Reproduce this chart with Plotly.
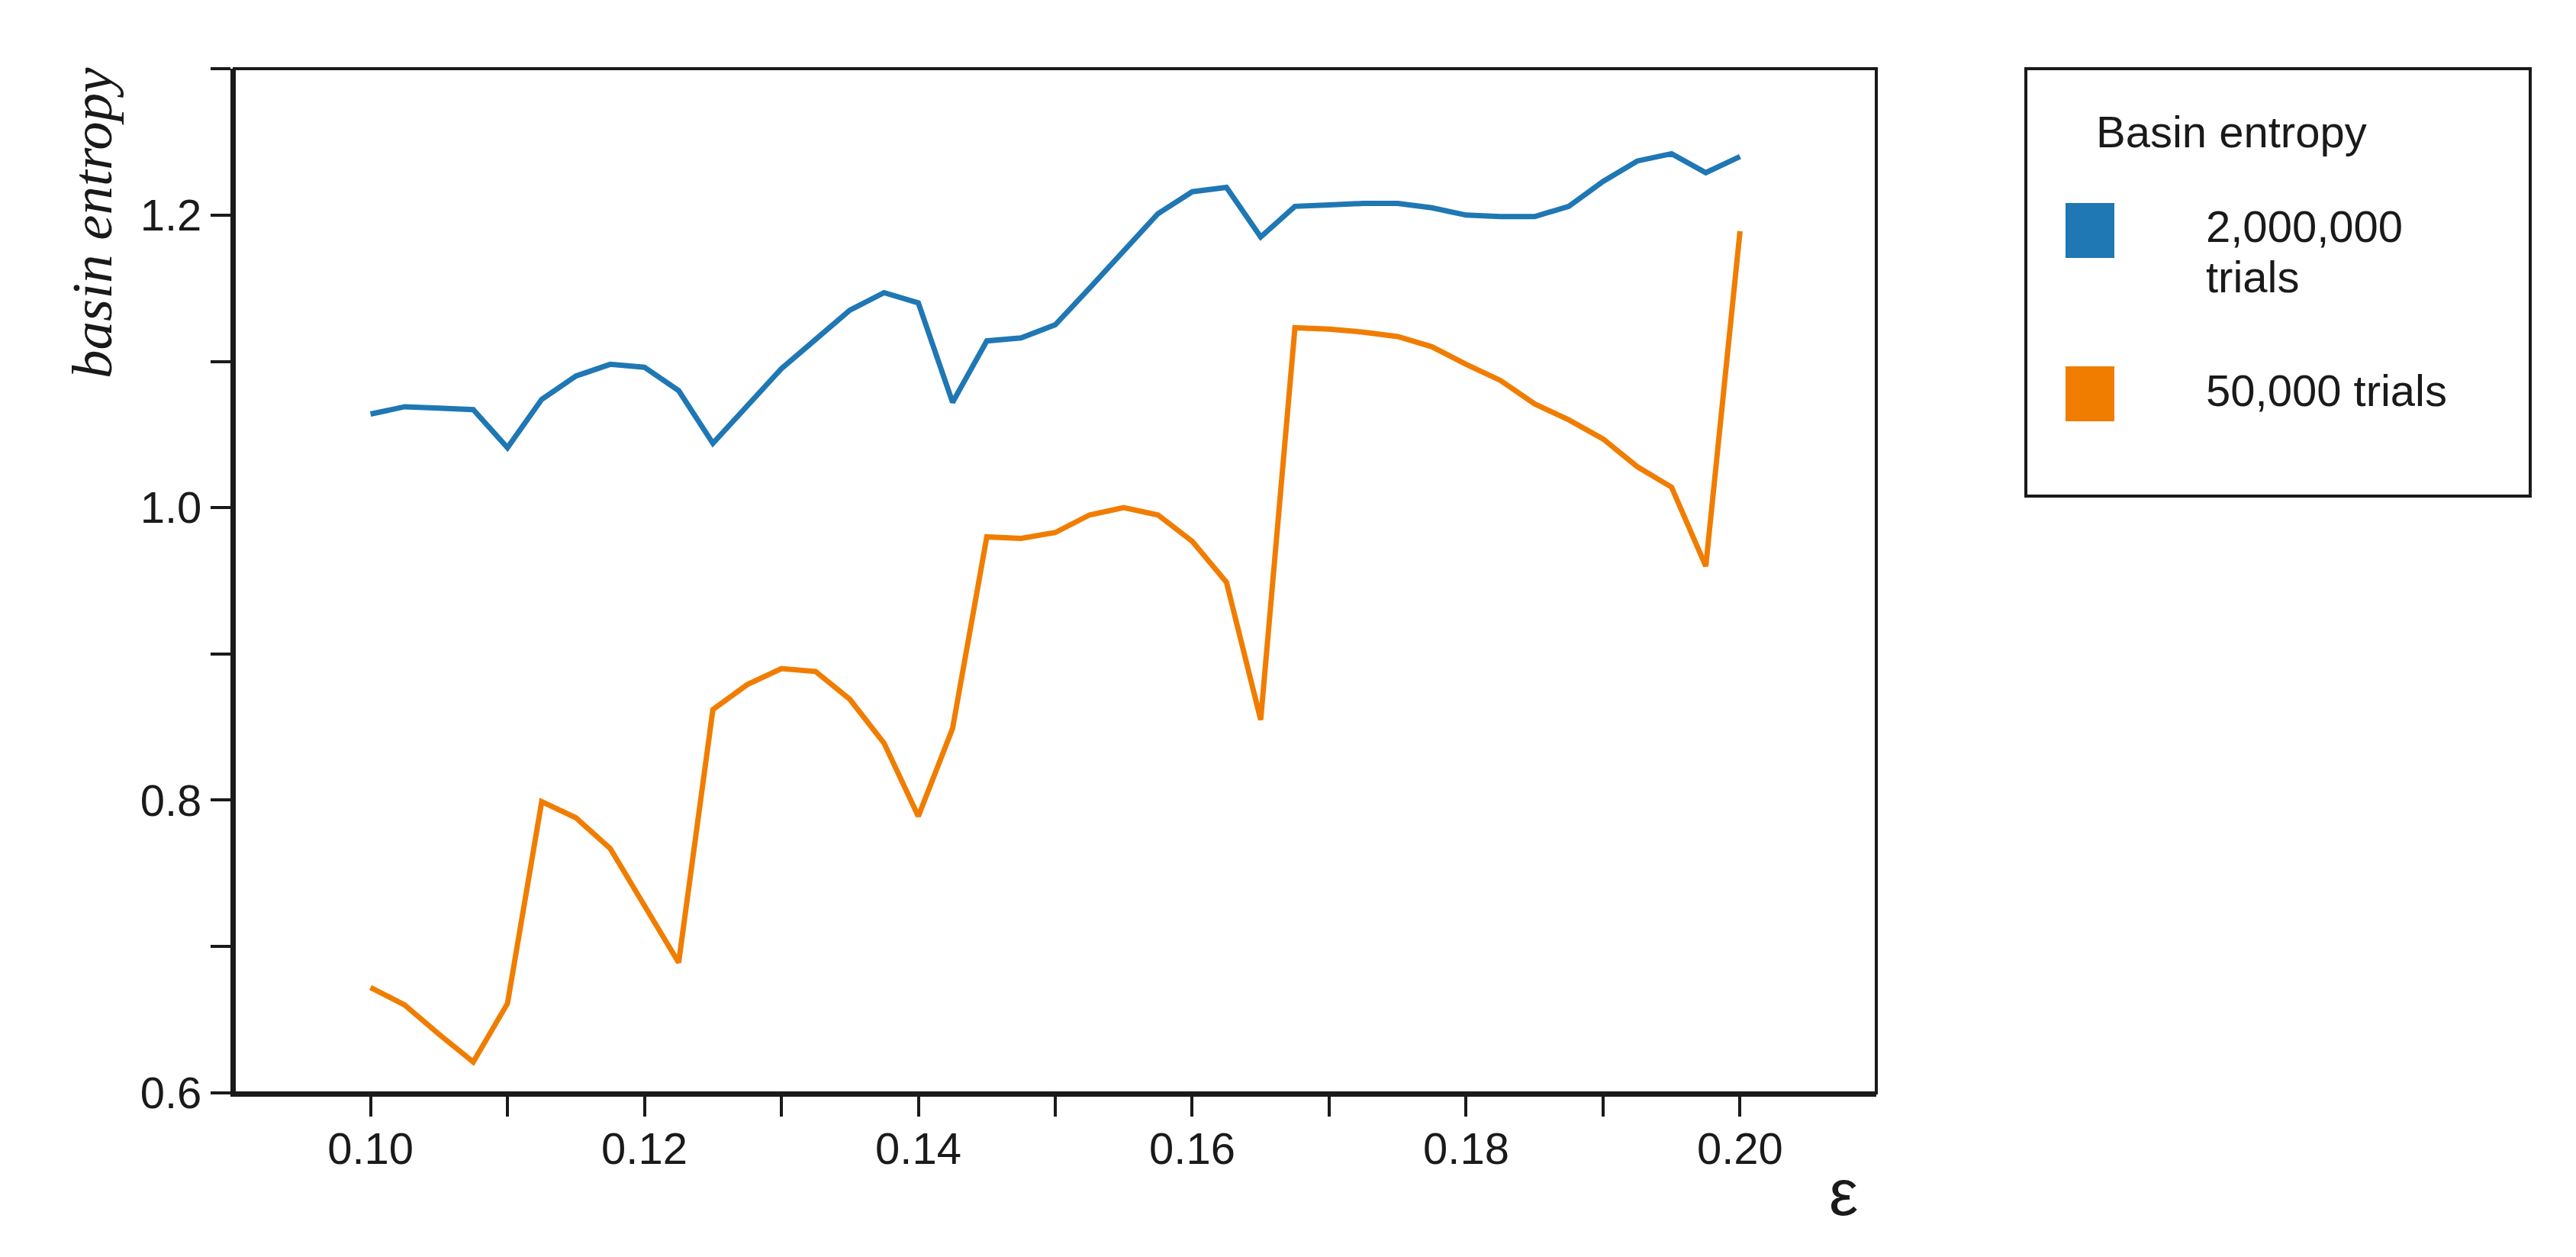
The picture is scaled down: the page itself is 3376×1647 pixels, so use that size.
# -*- coding: utf-8 -*-
import plotly.graph_objs as go

# epsilon values (x axis)
eps = [0.1000, 0.1025, 0.1050, 0.1075, 0.1100, 0.1125, 0.1150, 0.1175, 0.1200, 0.1225,
       0.1250, 0.1275, 0.1300, 0.1325, 0.1350, 0.1375, 0.1400, 0.1425, 0.1450, 0.1475,
       0.1500, 0.1525, 0.1550, 0.1575, 0.1600, 0.1625, 0.1650, 0.1675, 0.1700, 0.1725,
       0.1750, 0.1775, 0.1800, 0.1825, 0.1850, 0.1875, 0.1900, 0.1925, 0.1950, 0.1975,
       0.2000]

# basin entropy, 2,000,000 trials
entropy_2m = [1.064, 1.069, 1.068, 1.067, 1.041, 1.074, 1.090, 1.098, 1.096, 1.080,
              1.044, 1.070, 1.095, 1.115, 1.135, 1.147, 1.140, 1.072, 1.114, 1.116,
              1.125, 1.150, 1.175, 1.201, 1.216, 1.219, 1.185, 1.206, 1.207, 1.208,
              1.208, 1.205, 1.200, 1.199, 1.199, 1.206, 1.223, 1.237, 1.242, 1.229,
              1.240]

# basin entropy, 50,000 trials
entropy_50k = [0.672, 0.660, 0.640, 0.621, 0.661, 0.799, 0.788, 0.767, 0.728, 0.689,
               0.862, 0.879, 0.890, 0.888, 0.869, 0.839, 0.789, 0.849, 0.980, 0.979,
               0.983, 0.995, 1.000, 0.995, 0.977, 0.949, 0.855, 1.123, 1.122, 1.120,
               1.117, 1.110, 1.098, 1.087, 1.071, 1.060, 1.047, 1.028, 1.014, 0.960,
               1.189]

series_names = ['2,000,000<br>trials', '50,000 trials']
series_colors = ['#1f77b4', '#f07d00']

x_major = [0.10, 0.12, 0.14, 0.16, 0.18, 0.20]
x_minor = [0.11, 0.13, 0.15, 0.17, 0.19]
y_major = [0.6, 0.8, 1.0, 1.2]
y_minor = [0.7, 0.9, 1.1, 1.3]

# page has an 8px body margin, so the figure is drawn from (8, 8)
OFF = 8
W, H = 3376 - 2 * OFF, 1647 - 2 * OFF
PL, PR, PT, PB = 307, 2459, 90, 1432          # plot area in page pixels
L, T = PL - OFF, PT - OFF
R, B = W - (PR - OFF), H - (PB - OFF)
PW, PH = PR - PL, PB - PT
INK = '#1a1a1a'
SANS = 'Liberation Sans, Arial, sans-serif'


def px(x):
    return (x - PL) / PW


def py(y):
    return (PB - y) / PH


fig = go.Figure()
for ys, name, color in zip([entropy_2m, entropy_50k], series_names, series_colors):
    fig.add_trace(go.Scatter(x=eps, y=ys, mode='lines', name=name,
                             line=dict(color=color, width=7),
                             showlegend=False))

axis_common = dict(showline=True, linecolor=INK, linewidth=5, mirror=False,
                   showgrid=False, zeroline=False, ticks='outside',
                   ticklen=26, tickwidth=4, tickcolor=INK,
                   tickfont=dict(family=SANS, size=58, color=INK))

fig.update_xaxes(range=[0.09005, 0.20995], tickvals=x_major,
                 ticktext=['%.2f' % v for v in x_major],
                 minor=dict(tickvals=x_minor, ticks='outside', ticklen=26,
                            tickwidth=4, tickcolor=INK),
                 ticklabelstandoff=-8,
                 **axis_common)
fig.update_yaxes(range=[0.5999, 1.3001], tickvals=y_major,
                 ticktext=['%.1f' % v for v in y_major],
                 minor=dict(tickvals=y_minor, ticks='outside', ticklen=26,
                            tickwidth=4, tickcolor=INK),
                 **axis_common)

shapes = [dict(type='rect', xref='x domain', yref='y domain', x0=0, x1=1, y0=0, y1=1,
               line=dict(color=INK, width=4), layer='below')]
# legend box
shapes.append(dict(type='rect', xref='paper', yref='paper',
                   x0=px(2655), x1=px(3316), y0=py(650), y1=py(90),
                   line=dict(color=INK, width=4)))
annotations = [
    dict(text='basin entropy', xref='paper', yref='paper', x=px(120), y=py(292),
         textangle=-90, showarrow=False, xanchor='center', yanchor='middle',
         font=dict(family='Liberation Serif, Times New Roman, serif', size=75,
                   color=INK, style='italic')),
    dict(text='ε', xref='paper', yref='paper', x=px(2416), y=py(1562),
         showarrow=False, xanchor='center', yanchor='middle',
         font=dict(family=SANS, size=86, color=INK)),
    dict(text='Basin entropy', xref='paper', yref='paper', x=px(2745), y=py(172),
         showarrow=False, xanchor='left', yanchor='middle',
         font=dict(family=SANS, size=58, color=INK)),
]

sq_centers = [302, 516]
txt_first_line = [296, 511]
line_step = 66
for name, color, sc, tc in zip(series_names, series_colors, sq_centers, txt_first_line):
    shapes.append(dict(type='rect', xref='paper', yref='paper',
                       x0=px(2707), x1=px(2771), y0=py(sc + 36), y1=py(sc - 36),
                       fillcolor=color, line=dict(width=0)))
    for k, part in enumerate(name.split('<br>')):
        annotations.append(dict(text=part, xref='paper', yref='paper',
                                x=px(2889), y=py(tc + k * line_step),
                                showarrow=False, xanchor='left', yanchor='middle',
                                font=dict(family=SANS, size=58, color=INK)))

fig.update_layout(width=W, height=H, autosize=False,
                  margin=dict(l=L, r=R, t=T, b=B, pad=0),
                  plot_bgcolor='white', paper_bgcolor='white',
                  shapes=shapes, annotations=annotations,
                  showlegend=False)

fig.write_html("out.html")
